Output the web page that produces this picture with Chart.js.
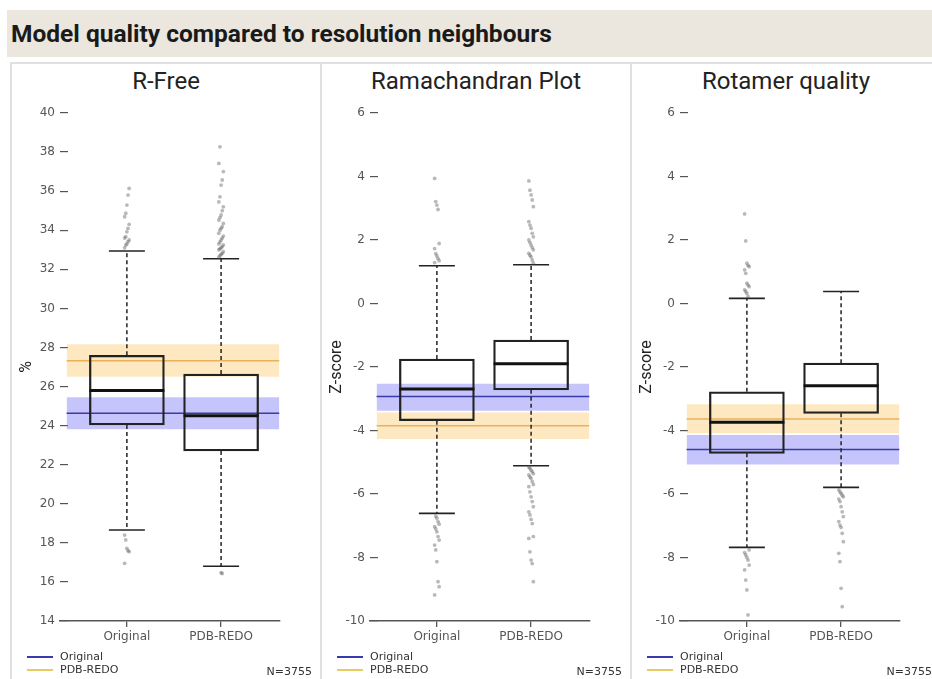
<!DOCTYPE html>
<html>
<head>
<meta charset="utf-8">
<title>Model quality compared to resolution neighbours</title>
<script src="https://cdn.jsdelivr.net/npm/chart.js"></script>
<style>
  html, body { margin: 0; padding: 0; background: #fff; overflow: hidden; }
  body { width: 932px; height: 679px; position: relative; font-family: Roboto, sans-serif; }
  #header { position: absolute; left: 7px; top: 10px; width: 940px; height: 47px; background: #ebe7de; }
  #header h1 { margin: 0; font-size: 24.5px; font-weight: bold; line-height: 47px; padding-left: 4px; color: #1a1a1a; }
  .panel { position: absolute; top: 62px; width: 310px; height: 630px; border-left: 2px solid #e0e0e0; border-top: 2px solid #e0e0e0; box-sizing: border-box; }
  .tytul { position: absolute; left: 0; top: 3px; width: 308px; text-align: center; font-size: 24px; line-height: 28px; color: #222; }
  .panel canvas { position: absolute; left: 0; top: 0; }
  .linia { position: absolute; left: 15px; width: 26px; height: 0; }
  .opis { position: absolute; left: 48px; font: 11px "DejaVu Sans", sans-serif; color: #333; line-height: 13px; }
  .ile { position: absolute; right: 8px; top: 601px; font: 11px "DejaVu Sans", sans-serif; color: #333; line-height: 13px; }
</style>
</head>
<body>
  <div id="header"><h1>Model quality compared to resolution neighbours</h1></div>

  <div class="panel" style="left:10px">
    <div class="tytul">R-Free</div>
    <canvas id="rfreeChart" width="308" height="615"></canvas>
    <div class="linia" style="top:592px; border-top:2px solid #3a3aa8"></div>
    <div class="opis" style="top:586px">Original</div>
    <div class="linia" style="top:605px; border-top:2px solid #e6cc62"></div>
    <div class="opis" style="top:599px">PDB-REDO</div>
    <div class="ile">N=3755</div>
  </div>

  <div class="panel" style="left:320px">
    <div class="tytul">Ramachandran Plot</div>
    <canvas id="ramaChart" width="308" height="615"></canvas>
    <div class="linia" style="top:592px; border-top:2px solid #3a3aa8"></div>
    <div class="opis" style="top:586px">Original</div>
    <div class="linia" style="top:605px; border-top:2px solid #e6cc62"></div>
    <div class="opis" style="top:599px">PDB-REDO</div>
    <div class="ile">N=3755</div>
  </div>

  <div class="panel" style="left:630px">
    <div class="tytul">Rotamer quality</div>
    <canvas id="rotaChart" width="308" height="615"></canvas>
    <div class="linia" style="top:592px; border-top:2px solid #3a3aa8"></div>
    <div class="opis" style="top:586px">Original</div>
    <div class="linia" style="top:605px; border-top:2px solid #e6cc62"></div>
    <div class="opis" style="top:599px">PDB-REDO</div>
    <div class="ile">N=3755</div>
  </div>

<script>
// kategorie na osi x
const categories = ['Original', 'PDB-REDO'];

// R-Free (%)
const rfreeLow = [18.66, 16.8];
const rfreeQ1 = [24.03, 22.7];
const rfreeMedian = [25.8, 24.5];
const rfreeQ3 = [27.6, 26.64];
const rfreeHigh = [32.94, 32.54];
const rfreeOutOrig = [33.1, 33.24, 33.3, 33.41, 33.5, 33.6, 33.67, 33.92, 34.09, 34.3, 34.69, 34.87, 35.29, 35.8, 36.14, 18.4, 18.15, 17.72, 17.6, 17.55, 16.95];
const rfreeOutRedo = [32.62, 32.7, 32.76, 32.82, 32.9, 33.0, 33.05, 33.1, 33.16, 33.25, 33.3, 33.4, 33.5, 33.6, 33.7, 33.84, 34.0, 34.1, 34.18, 34.35, 34.52, 34.65, 34.78, 35.0, 35.2, 35.45, 35.71, 36.31, 36.57, 37.0, 37.42, 38.27, 16.47, 16.43];
const rfreeBandOrig = [23.81, 24.63, 25.45];   // dolna granica, linia, górna granica
const rfreeBandRedo = [26.5, 27.32, 28.16];

// Ramachandran Plot (Z-score)
const ramaLow = [-6.61, -5.11];
const ramaQ1 = [-3.69, -2.72];
const ramaMedian = [-2.69, -1.9];
const ramaQ3 = [-1.75, -1.15];
const ramaHigh = [1.19, 1.22];
const ramaOutOrig = [3.94, 3.21, 3.1, 2.96, 1.89, 1.73, 1.57, 1.5, 1.42, 1.35, 1.29, -6.7, -6.76, -6.87, -6.95, -7.03, -7.1, -7.19, -7.34, -7.45, -7.61, -7.76, -8.13, -8.76, -8.92, -9.18];
const ramaOutRedo = [3.86, 3.57, 3.42, 3.26, 3.05, 2.58, 2.47, 2.37, 2.21, 2.1, 2.0, 1.92, 1.84, 1.76, 1.69, 1.58, 1.52, 1.47, 1.37, 1.27, -5.15, -5.19, -5.25, -5.3, -5.36, -5.4, -5.46, -5.51, -5.61, -5.7, -5.77, -5.93, -6.09, -6.24, -6.4, -6.56, -6.66, -6.8, -6.93, -7.34, -7.4, -7.82, -8.08, -8.19, -8.76];
const ramaBandOrig = [-3.38, -2.93, -2.53];
const ramaBandRedo = [-4.27, -3.85, -3.43];

// Rotamer quality (Z-score)
const rotaLow = [-7.68, -5.79];
const rotaQ1 = [-4.72, -3.46];
const rotaMedian = [-3.74, -2.59];
const rotaQ3 = [-2.78, -1.88];
const rotaHigh = [0.16, 0.38];
const rotaOutOrig = [2.82, 1.97, 1.27, 1.2, 1.16, 1.06, 0.95, 0.64, 0.58, 0.53, 0.43, 0.38, 0.32, 0.22, -7.76, -7.85, -7.92, -8.0, -8.08, -8.24, -8.39, -8.71, -9.02, -9.81];
const rotaOutRedo = [-5.87, -5.93, -5.98, -6.04, -6.09, -6.16, -6.24, -6.4, -6.56, -6.71, -6.87, -6.98, -7.05, -7.24, -7.5, -7.87, -8.13, -8.97, -9.55];
const rotaBandOrig = [-5.07, -4.6, -4.14];
const rotaBandRedo = [-4.09, -3.64, -3.17];

const blueFill = 'rgba(110,110,245,0.4)';
const blueLine = '#3a3aa8';
const orangeFill = 'rgba(250,190,80,0.35)';
const orangeLine = '#e8b25a';
const tickFont = { family: 'DejaVu Sans', size: 12 };

function bandSets(band, fillColor, lineColor) {
    return [{
        type: 'line',
        data: [{ x: 0.36, y: band[2] }, { x: 2.62, y: band[2] }],
        fill: { value: band[0] },
        backgroundColor: fillColor,
        borderWidth: 0,
        pointRadius: 0,
        order: 10
    }, {
        type: 'line',
        data: [{ x: 0.36, y: band[1] }, { x: 2.62, y: band[1] }],
        borderColor: lineColor,
        borderWidth: 1.5,
        pointRadius: 0,
        fill: false,
        order: 9
    }];
}

function boxChart(id, yMin, yMax, yTitle, low, q1, med, q3, high, outOrig, outRedo, bandOrig, bandRedo) {
    const boxes = [], whiskers = [], caps = [], medians = [], outliers = [];
    for (let i = 0; i < categories.length; i++) {
        const cx = i + 1;
        boxes.push({ x: cx, y: [q1[i], q3[i]] });
        whiskers.push({ x: cx, y: q3[i] }, { x: cx, y: high[i] }, { x: cx, y: null },
                      { x: cx, y: q1[i] }, { x: cx, y: low[i] }, { x: cx, y: null });
        caps.push({ x: cx, y: high[i] }, { x: cx, y: low[i] });
        medians.push({ x: cx, y: med[i] });
    }
    // lekkie rozsunięcie punktów odstających
    outOrig.forEach((v, k) => outliers.push({ x: 1 + ((k % 5) - 2) * 0.012, y: v }));
    outRedo.forEach((v, k) => outliers.push({ x: 2 + ((k % 5) - 2) * 0.012, y: v }));

    const datasets = [].concat(
        bandSets(bandOrig, blueFill, blueLine),
        bandSets(bandRedo, orangeFill, orangeLine),
        [{
            type: 'bar',
            data: boxes,
            backgroundColor: 'rgba(0,0,0,0)',
            borderColor: '#222',
            borderWidth: 1.6,
            borderSkipped: false,
            barThickness: 75,
            order: 5
        }, {
            type: 'line',
            data: whiskers,
            borderColor: '#222',
            borderWidth: 1.5,
            borderDash: [4, 3],
            pointRadius: 0,
            spanGaps: false,
            fill: false,
            order: 4
        }, {
            type: 'scatter',
            data: caps,
            pointStyle: 'line',
            pointRadius: 18,
            pointBorderWidth: 1.6,
            pointBorderColor: '#222',
            order: 3
        }, {
            type: 'scatter',
            data: medians,
            pointStyle: 'line',
            pointRadius: 37.5,
            pointBorderWidth: 3,
            pointBorderColor: '#111',
            order: 2
        }, {
            type: 'scatter',
            data: outliers,
            pointRadius: 1.9,
            pointBorderWidth: 0,
            pointBackgroundColor: 'rgba(80,80,80,0.4)',
            order: 1
        }]
    );

    new Chart(document.getElementById(id), {
        type: 'bar',
        data: { datasets: datasets },
        options: {
            responsive: false,
            animation: false,
            events: [],
            layout: { padding: { left: 0, right: 27, top: 49, bottom: 28 } },
            plugins: { legend: { display: false }, tooltip: { enabled: false } },
            scales: {
                x: {
                    type: 'linear',
                    min: 0.29,
                    max: 2.62,
                    offset: false,
                    grid: { drawOnChartArea: false, tickLength: 6, color: '#555', lineWidth: 1.3, offset: false },
                    border: { display: true, color: '#555', width: 1.5 },
                    ticks: {
                        font: tickFont,
                        color: '#555',
                        padding: 3,
                        callback: v => categories[v - 1] || ''
                    },
                    afterBuildTicks: s => { s.ticks = [{ value: 1 }, { value: 2 }]; },
                    afterFit: s => { s.height = 30; }
                },
                y: {
                    min: yMin,
                    max: yMax,
                    grid: { drawOnChartArea: false, tickLength: -8, color: '#555', lineWidth: 1.2 },
                    border: { display: false },
                    ticks: { stepSize: 2, font: tickFont, color: '#555', padding: 13 },
                    title: {
                        display: true,
                        text: yTitle,
                        font: { family: 'Roboto', size: 16 },
                        color: '#222',
                        padding: { top: 5, bottom: 0 }
                    },
                    afterFit: s => { s.width = 48; }
                }
            }
        }
    });
}

boxChart('rfreeChart', 14, 40, '%', rfreeLow, rfreeQ1, rfreeMedian, rfreeQ3, rfreeHigh, rfreeOutOrig, rfreeOutRedo, rfreeBandOrig, rfreeBandRedo);
boxChart('ramaChart', -10, 6, 'Z-score', ramaLow, ramaQ1, ramaMedian, ramaQ3, ramaHigh, ramaOutOrig, ramaOutRedo, ramaBandOrig, ramaBandRedo);
boxChart('rotaChart', -10, 6, 'Z-score', rotaLow, rotaQ1, rotaMedian, rotaQ3, rotaHigh, rotaOutOrig, rotaOutRedo, rotaBandOrig, rotaBandRedo);
</script>
</body>
</html>
